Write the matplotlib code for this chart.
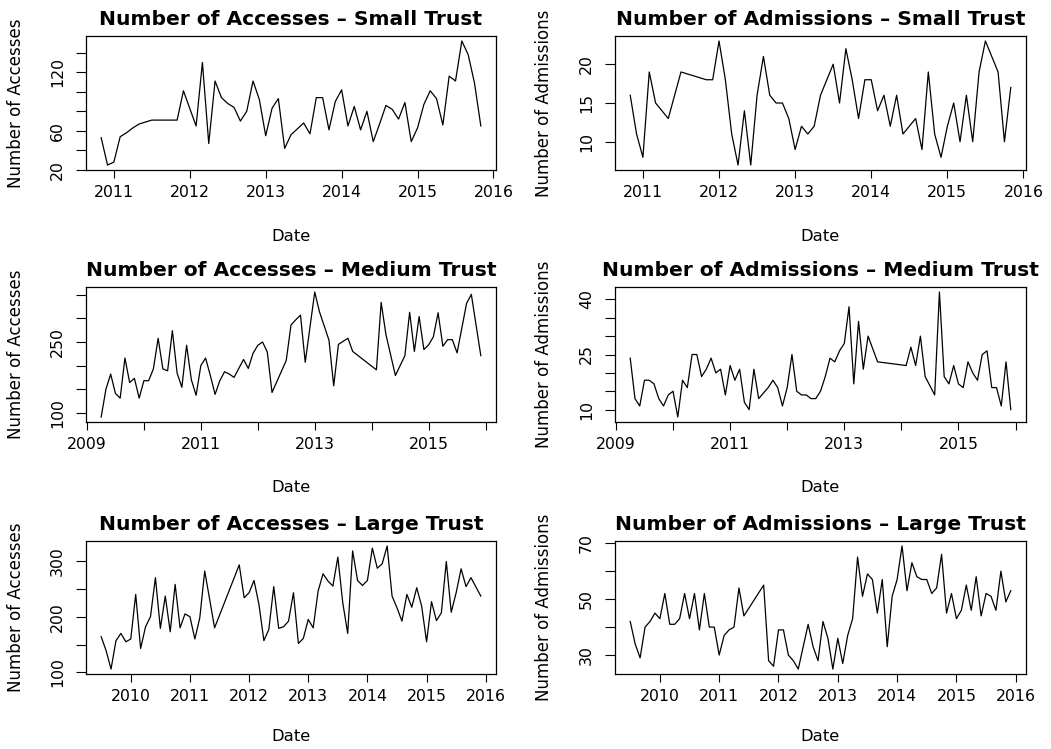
import matplotlib
matplotlib.use("Agg")
import matplotlib.pyplot as plt
import numpy as np

plt.rcParams['font.family'] = ['DejaVu Sans']


def months(start, end):
    """Monthly labels 'YYYY-MM' from start to end inclusive."""
    y0, m0 = map(int, start.split('-'))
    y1, m1 = map(int, end.split('-'))
    out = []
    y, m = y0, m0
    while (y, m) <= (y1, m1):
        out.append(f"{y:04d}-{m:02d}")
        m += 1
        if m > 12:
            y, m = y + 1, 1
    return out


# ---- Small trust ----
small_acc_dates = (months("2010-11", "2011-05") + ["2011-07", "2011-11", "2011-12"]
                   + months("2012-02", "2015-11"))
small_acc_vals = [53, 25, 28, 54, 58, 63, 67,
                  71, 71, 101,
                  65, 130, 47, 111, 94, 88, 84, 70, 80, 111, 92,
                  55, 83, 93, 42, 56, 62, 68, 57, 94, 94, 61, 90,
                  102, 65, 85, 61, 80, 49, 67, 86, 82, 72, 89, 49,
                  63, 87, 101, 93, 66, 116, 111, 152, 138, 109, 65]

small_adm_dates = (["2010-11", "2010-12", "2011-01", "2011-02", "2011-03", "2011-05",
                    "2011-07", "2011-11", "2011-12"]
                   + months("2012-01", "2015-07") + months("2015-09", "2015-11"))
small_adm_vals = [16, 11, 8, 19, 15, 13, 19, 18, 18,
                  23, 18, 11, 7, 14, 7, 16, 21, 16, 15, 15, 13,
                  9, 12, 11, 12, 16, 18, 20, 15, 22, 18, 13, 18,
                  18, 14, 16, 12, 16, 11, 12, 13, 9, 19, 11, 8,
                  12, 15, 10, 16, 10, 19, 23,
                  19, 10, 17]

# ---- Medium trust ----
medium_acc_dates = (months("2009-04", "2012-04")
                    + ["2012-07", "2012-08", "2012-09", "2012-10", "2012-11",
                       "2013-01", "2013-02", "2013-04", "2013-05", "2013-06",
                       "2013-08", "2013-09", "2014-02", "2014-03", "2014-04",
                       "2014-06"]
                    + months("2014-08", "2015-07") + ["2015-09", "2015-10", "2015-12"])
medium_acc_vals = [91, 150, 182, 141, 131, 216, 164, 173, 131,
                   168, 168, 193, 258, 193, 189, 274, 184, 154, 243, 170, 137,
                   200, 216, 179, 139, 168, 187, 182, 175, 194, 213, 194, 226,
                   243, 250, 229, 143,
                   211, 286, 297, 307, 207,
                   356, 314, 254, 157, 245,
                   258, 230, 191, 334, 266,
                   179,
                   221, 313, 230, 304, 234, 244, 261, 312, 241, 255, 255, 227,
                   332, 351, 221]

medium_adm_dates = (months("2009-04", "2011-07") + months("2011-09", "2013-06")
                    + ["2013-08"] + months("2014-02", "2014-06")
                    + months("2014-08", "2015-12"))
medium_adm_vals = [24, 13, 11, 18, 18, 17, 13, 11, 14,
                   15, 8, 18, 16, 25, 25, 19, 21, 24, 20, 21, 14,
                   22, 18, 21, 12, 10, 21, 13,
                   16, 18, 16, 11,
                   16, 25, 15, 14, 14, 13, 13, 15, 19, 24, 23, 26,
                   28, 38, 17, 34, 21, 30,
                   23,
                   22, 27, 22, 30, 19,
                   14, 42, 19, 17, 22,
                   17, 16, 23, 20, 18, 25, 26, 16, 16, 11, 23, 10]

# ---- Large trust ----
large_acc_dates = (months("2009-07", "2011-04") + ["2011-06"]
                   + months("2011-11", "2015-10") + ["2015-12"])
large_acc_vals = [164, 139, 106, 157, 170, 155,
                  160, 240, 143, 182, 200, 270, 179, 237, 173, 258, 180, 205,
                  200, 160, 198, 282,
                  180,
                  293, 234,
                  243, 265, 222, 157, 177, 254, 179, 182, 192, 243, 152, 161,
                  195, 180, 246, 277, 264, 255, 307, 225, 170, 318, 265, 256,
                  265, 323, 287, 295, 327, 237, 216, 192, 240, 217, 252, 219,
                  155, 227, 193, 207, 299, 208, 243, 286, 254, 270,
                  237]

large_adm_dates = months("2009-07", "2011-06") + months("2011-10", "2015-12")
large_adm_vals = [42, 34, 29, 40, 42, 45,
                  43, 52, 41, 41, 43, 52, 43, 52, 39, 52, 40, 40,
                  30, 37, 39, 40, 54, 44,
                  55, 28, 26,
                  39, 39, 30, 28, 25, 33, 41, 33, 28, 42, 36, 25,
                  36, 27, 37, 43, 65, 51, 59, 57, 45, 57, 33, 51,
                  57, 69, 53, 63, 58, 57, 57, 52, 54, 66, 45, 52,
                  43, 46, 55, 46, 58, 44, 52, 51, 46, 60, 49, 53]

# y-axis ticks and which of them carry a label
small_acc_yticks, small_acc_ylab = [20, 40, 60, 80, 100, 120, 140], [20, 60, 120]
small_adm_yticks, small_adm_ylab = [10, 15, 20], [10, 15, 20]
medium_acc_yticks, medium_acc_ylab = [100, 150, 200, 250, 300, 350], [100, 250]
medium_adm_yticks, medium_adm_ylab = [10, 15, 20, 25, 30, 35, 40], [10, 25, 40]
large_acc_yticks, large_acc_ylab = [100, 150, 200, 250, 300], [100, 200, 300]
large_adm_yticks, large_adm_ylab = [30, 40, 50, 60, 70], [30, 50, 70]

# x-axis years and which of them carry a label
small_years, small_year_lab = list(range(2011, 2017)), list(range(2011, 2017))
medium_years, medium_year_lab = list(range(2009, 2017)), [2009, 2011, 2013, 2015]
large_years, large_year_lab = list(range(2010, 2017)), list(range(2010, 2017))

panels = [
    ("Number of Accesses \u2013 Small Trust", "Number of Accesses",
     small_acc_dates, small_acc_vals, small_acc_yticks, small_acc_ylab, small_years, small_year_lab),
    ("Number of Admissions \u2013 Small Trust", "Number of Admissions",
     small_adm_dates, small_adm_vals, small_adm_yticks, small_adm_ylab, small_years, small_year_lab),
    ("Number of Accesses \u2013 Medium Trust", "Number of Accesses",
     medium_acc_dates, medium_acc_vals, medium_acc_yticks, medium_acc_ylab, medium_years, medium_year_lab),
    ("Number of Admissions \u2013 Medium Trust", "Number of Admissions",
     medium_adm_dates, medium_adm_vals, medium_adm_yticks, medium_adm_ylab, medium_years, medium_year_lab),
    ("Number of Accesses \u2013 Large Trust", "Number of Accesses",
     large_acc_dates, large_acc_vals, large_acc_yticks, large_acc_ylab, large_years, large_year_lab),
    ("Number of Admissions \u2013 Large Trust", "Number of Admissions",
     large_adm_dates, large_adm_vals, large_adm_yticks, large_adm_ylab, large_years, large_year_lab),
]

W, H = 1051, 749
fig = plt.figure(figsize=(W / 100, H / 100), dpi=100)
fig.patch.set_facecolor("white")

# plot-region edges in pixels
cols = [(86, 496), (615, 1026)]
rows = [(36, 170), (287, 422), (541, 674)]
date_offsets = [59, 58, 55]   # gap (px) from plot bottom to top of "Date"


def to_decimal(d):
    y, m = map(int, d.split('-'))
    return y + (m - 1) / 12.0


def padded(lo, hi):
    r = hi - lo
    return lo - 0.04 * r, hi + 0.04 * r


for i, (title, ylabel, dates, vals, yt, ylab, yrs, yrlab) in enumerate(panels):
    l, r = cols[i % 2]
    t, b = rows[i // 2]
    ax = fig.add_axes([l / W, 1 - b / H, (r - l) / W, (b - t) / H])
    x = np.array([to_decimal(d) for d in dates])
    y = np.array(vals, dtype=float)
    ax.plot(x, y, color="black", linewidth=0.9)
    ax.set_xlim(*padded(x.min(), x.max()))
    ax.set_ylim(*padded(y.min(), y.max()))

    ax.set_xticks(yrs)
    ax.set_xticklabels([str(v) if v in yrlab else "" for v in yrs])
    ax.set_yticks(yt)
    ax.set_yticklabels([str(v) if v in ylab else "" for v in yt],
                       rotation=90, va="center")

    ax.tick_params(axis="x", direction="out", length=5.8, width=0.8,
                   pad=5, labelsize=11.3)
    ax.tick_params(axis="y", direction="out", length=7, width=0.8,
                   pad=8, labelsize=11.3)
    for s in ax.spines.values():
        s.set_linewidth(0.9)

    ax.set_title(title, fontsize=14.6, fontweight="bold", pad=8)
    ax.set_xlabel("Date", fontsize=11.8)
    ax.set_ylabel(ylabel, fontsize=12)
    ax.xaxis.set_label_coords(0.5, -date_offsets[i // 2] / (b - t))
    ax.yaxis.set_label_coords(-61 / 410 if i % 2 == 0 else -62 / 411, 0.5)

fig.savefig("out.png", dpi=100, facecolor="white")
